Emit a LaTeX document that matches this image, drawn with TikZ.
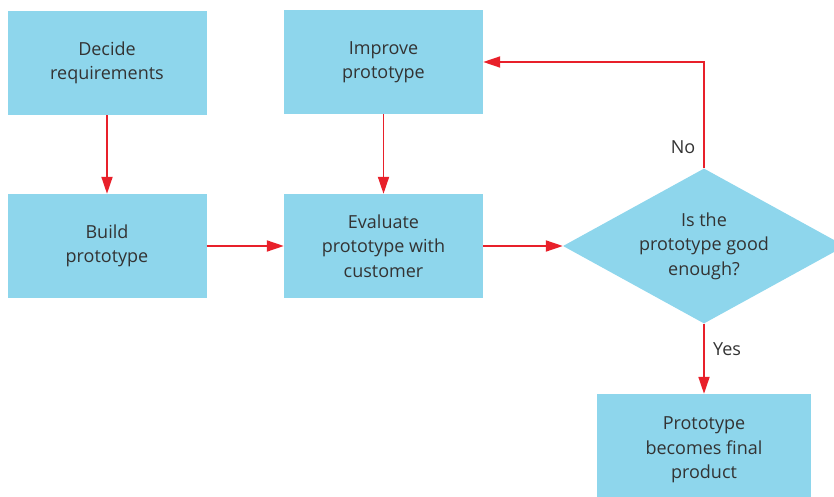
\documentclass[tikz,border=0pt]{standalone}
\usepackage{fontspec}
\setmainfont{Open Sans}
\usetikzlibrary{arrows.meta,shapes.geometric}
\definecolor{boxfill}{HTML}{8ED6EC}
\definecolor{flowred}{HTML}{E8202A}
\definecolor{txt}{HTML}{333333}
\begin{document}
\begin{tikzpicture}[x=1pt,y=-1pt,
  font=\fontsize{18}{24.5}\selectfont,
  stepbox/.style={rectangle,fill=boxfill,draw=none,text=txt,align=center,
    minimum width=199pt,minimum height=104pt,inner sep=0pt},
  decision/.style={diamond,fill=boxfill,draw=none,text=txt,align=center,
    aspect=1.8,minimum width=282pt,minimum height=155pt,inner sep=0pt},
  flow/.style={draw=flowred,line width=1.8pt,
    -{Triangle[length=17pt,width=11pt]}},
  lbl/.style={text=txt,inner sep=0pt}]
\useasboundingbox (0,0) rectangle (834,497);
\begin{scope}
\clip (0,0) rectangle (834,497);
\node[stepbox] (dec) at (107,63) {Decide\\requirements};
\node[stepbox] (imp) at (383.5,62) {Improve\\prototype};
\node[stepbox] (bld) at (107,246) {Build\\prototype};
\node[stepbox] (evl) at (383.5,246) {Evaluate\\prototype with\\customer};
\node[decision] (dia) at (704,246) {Is the\\prototype good\\enough?};
\node[stepbox,minimum width=214pt,minimum height=112pt] (fin) at (704,450)
  {Prototype\\becomes final\\product};
\end{scope}
\coordinate (turn) at (dia.north |- 0,62);
\draw[flow] (dec) -- (bld);
\draw[flow] (imp) -- (evl);
\draw[flow] (bld) -- (evl);
\draw[flow] (evl) -- (dia.west);
\draw[flow] (dia.north) -- (turn) -- (turn -| imp.east);
\draw[flow] (dia.south) -- (fin.north);
\node[lbl] (no) at (683,147) {No};
\node[lbl] (yes) at (727,349) {Yes};
\end{tikzpicture}
\end{document}
